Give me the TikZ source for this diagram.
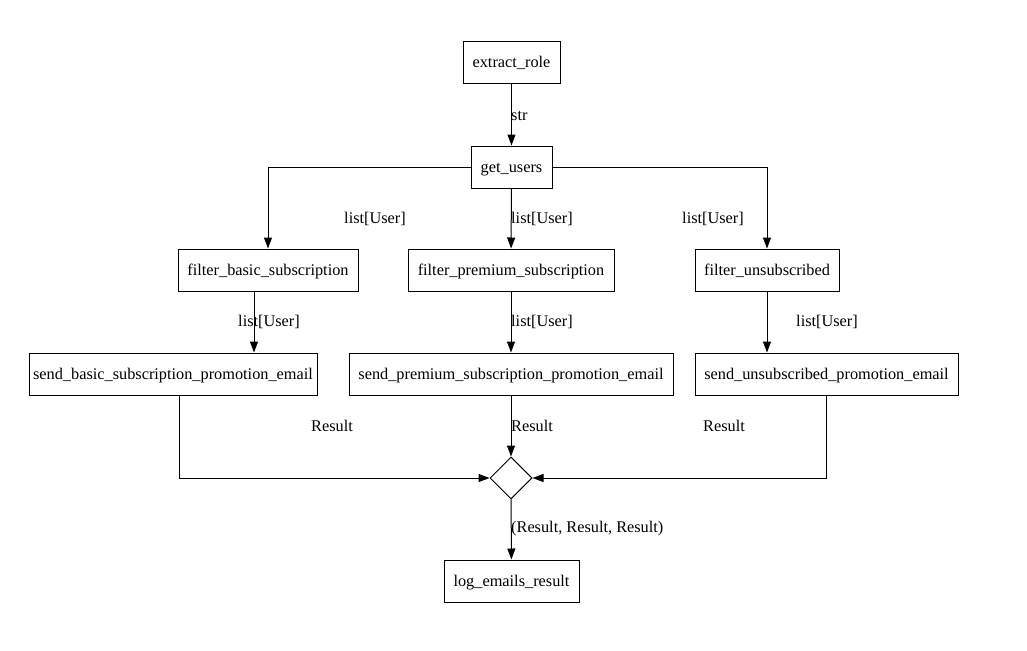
\documentclass[tikz,border=0pt]{standalone}
\usepackage{fontspec}
\setmainfont{Liberation Serif}
\usetikzlibrary{arrows.meta,shapes.geometric}
\begin{document}
\begin{tikzpicture}[x=1pt,y=-1pt,
  box/.style={draw, line width=1pt, inner sep=0pt, minimum height=42pt, text height=12pt, text depth=2pt, font=\fontsize{16.3}{18}\selectfont},
  lbl/.style={font=\fontsize{16.3}{18}\selectfont, inner sep=0pt, yshift=-1pt},
  arr/.style={draw, line width=1pt, -{Triangle[length=11pt,width=8pt]}}]
\fill[white] (0,0) rectangle (1027,650);
\useasboundingbox (0,0) rectangle (1027,650);
% nodes
\node[box, minimum width=97pt]  (er) at (511.5,63)  {extract\_role};
\node[box, minimum width=81pt]  (gu) at (511.5,167) {get\_users};
\node[box, minimum width=180pt] (fb) at (268,270)   {filter\_basic\_subscription};
\node[box, minimum width=206pt] (fp) at (511,270)   {filter\_premium\_subscription};
\node[box, minimum width=144pt] (fu) at (767,270)   {filter\_unsubscribed};
\node[box, minimum width=288pt] (sb) at (173,374)   {send\_basic\_subscription\_promotion\_email};
\node[box, minimum width=324pt] (sp) at (511,374)   {send\_premium\_subscription\_promotion\_email};
\node[box, minimum width=263pt] (su) at (826.5,374) {send\_unsubscribed\_promotion\_email};
\node[draw, diamond, line width=1pt, inner sep=0pt, minimum width=42pt, minimum height=42pt] (j) at (511,478) {};
\node[box, minimum width=135pt] (lg) at (511.5,581) {log\_emails\_result};
% edges
\draw[arr] (er) -- (gu);
\node[lbl, anchor=west] (l1) at (511,115) {str};
\draw[arr] (gu.west) -| (fb.north);
\node[lbl] (l2) at (375,218) {list[User]};
\draw[arr] (gu) -- (fp);
\node[lbl, anchor=west] (l3) at (511,218) {list[User]};
\draw[arr] (gu.east) -| (fu.north);
\node[lbl] (l4) at (713,218) {list[User]};
\draw[arr] ([xshift=-14pt]fb.south) -- ([xshift=-14pt]fb.south |- sb.north);
\node[lbl] (l5) at (269,321) {list[User]};
\draw[arr] (fp) -- (sp);
\node[lbl, anchor=west] (l6) at (511,321) {list[User]};
\draw[arr] (fu) -- (fu.south |- su.north);
\node[lbl] (l7) at (827,321) {list[User]};
\draw[arr] ([xshift=6pt]sb.south) |- (j.west);
\node[lbl] (l8) at (332,425) {Result};
\draw[arr] (sp) -- (j);
\node[lbl, anchor=west] (l9) at (511,425) {Result};
\draw[arr] (su.south) |- (j.east);
\node[lbl] (l10) at (724,425) {Result};
\draw[arr] (j) -- (lg);
\node[lbl, anchor=west] (l11) at (511,528) {(Result, Result, Result)};
\end{tikzpicture}
\end{document}
